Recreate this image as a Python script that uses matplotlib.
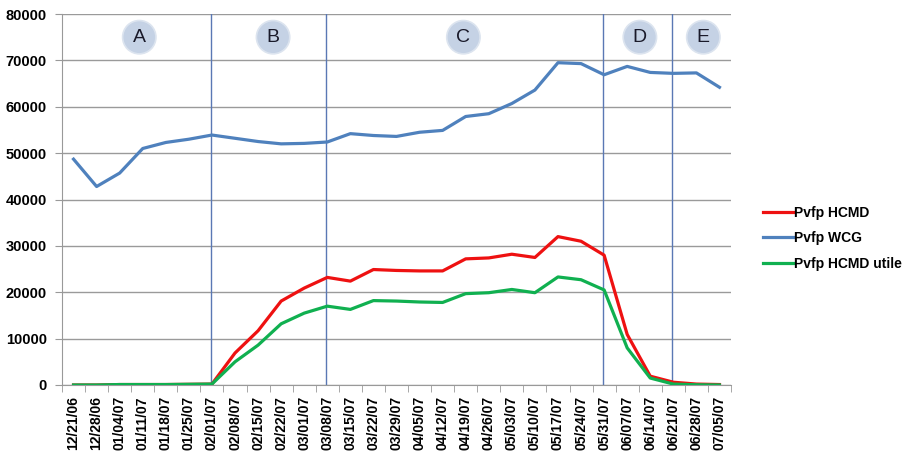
import matplotlib
matplotlib.use("Agg")
import matplotlib.pyplot as plt
import numpy as np

plt.rcParams["font.family"] = ["Liberation Sans", "DejaVu Sans"]

dates = ["12/21/06", "12/28/06", "01/04/07", "01/11/07", "01/18/07", "01/25/07",
         "02/01/07", "02/08/07", "02/15/07", "02/22/07", "03/01/07", "03/08/07",
         "03/15/07", "03/22/07", "03/29/07", "04/05/07", "04/12/07", "04/19/07",
         "04/26/07", "05/03/07", "05/10/07", "05/17/07", "05/24/07", "05/31/07",
         "06/07/07", "06/14/07", "06/21/07", "06/28/07", "07/05/07"]

pvfp_hcmd = [0, 0, 100, 100, 100, 150, 200, 6900, 11700, 18100, 20900, 23200,
             22400, 24900, 24700, 24600, 24600, 27200, 27400, 28200, 27500, 32000,
             31000, 28000, 10900, 1900, 600, 200, 100]
pvfp_wcg = [48700, 42800, 45700, 51000, 52300, 53000, 53900, 53200, 52500, 52000,
            52100, 52400, 54200, 53800, 53600, 54500, 54900, 57900, 58500, 60700,
            63600, 69500, 69300, 66900, 68700, 67400, 67200, 67300, 64200]
pvfp_hcmd_utile = [0, 0, 100, 100, 100, 150, 200, 5000, 8600, 13200, 15500, 17000,
                   16300, 18200, 18100, 17900, 17800, 19700, 19900, 20600, 19900, 23300,
                   22700, 20500, 8000, 1500, 200, 50, 0]

phase_bounds = ["02/01/07", "03/08/07", "05/31/07", "06/21/07"]
phase_labels = ["A", "B", "C", "D", "E"]
phase_label_pos = [2.85, 8.65, 16.9, 24.55, 27.3]

x = np.arange(len(dates))

fig = plt.figure(figsize=(9.08, 4.58), dpi=100)
ax = fig.add_axes([62 / 908, 1 - 385 / 458, (731 - 62) / 908, (385 - 14) / 458])

ax.plot(x, pvfp_hcmd, color="#ee1111", lw=2.3, label="Pvfp HCMD", zorder=4)
ax.plot(x, pvfp_wcg, color="#4f81bd", lw=2.3, label="Pvfp WCG", zorder=4)
ax.plot(x, pvfp_hcmd_utile, color="#10b050", lw=2.3, label="Pvfp HCMD utile", zorder=4)

for d in phase_bounds:
    ax.axvline(dates.index(d) - 0.05, color="#5a78b4", lw=1, zorder=3)

for lab, px in zip(phase_labels, phase_label_pos):
    ax.text(px, 75000, lab, ha="center", va="center", fontsize=14, color="#1a1a2a",
            bbox=dict(boxstyle="circle,pad=0.42", fc="#c5d2e5", ec="#dce4ef", lw=1.2),
            zorder=5)

ax.set_xlim(-0.5, len(dates) - 0.5)
ax.set_ylim(0, 80000)
ax.set_yticks(np.arange(0, 80001, 10000))
ax.set_yticklabels([str(v) for v in range(0, 80001, 10000)], fontsize=10.5,
                   fontweight="bold")
ax.set_xticks(x)
ax.set_xticklabels(dates, rotation=90, fontsize=10, fontweight="bold")
ax.set_xticks(np.arange(-0.5, len(dates), 1), minor=True)
ax.tick_params(axis="x", which="major", length=0, pad=8)
ax.tick_params(axis="x", which="minor", length=5, color="#999999")
ax.tick_params(axis="y", length=5, color="#999999", pad=6)

ax.grid(axis="y", color="#9a9a9a", lw=1, zorder=1)
for s in ["top", "right"]:
    ax.spines[s].set_visible(False)
for s in ["left", "bottom"]:
    ax.spines[s].set_color("#999999")

leg = fig.legend(loc="upper left", bbox_to_anchor=(750 / 908, 1 - 193 / 458),
                 frameon=False, prop={"weight": "bold", "size": 10},
                 handlelength=2.2, handletextpad=0.1, labelspacing=0.85)

fig.savefig("out.png", dpi=100)
